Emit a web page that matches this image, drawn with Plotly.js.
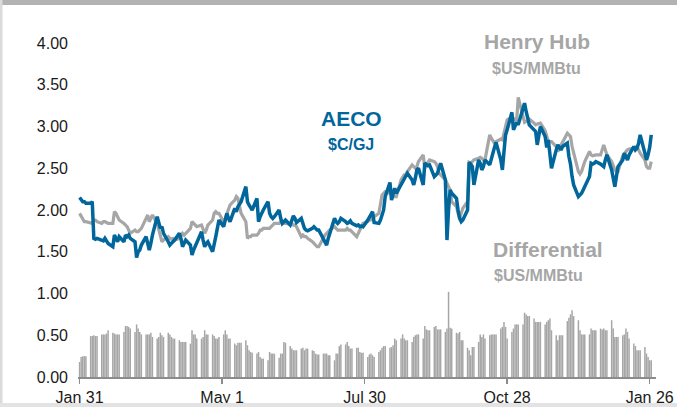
<!DOCTYPE html>
<html>
<head>
<meta charset="utf-8">
<script src="https://cdn.plot.ly/plotly-3.0.1.min.js"></script>
<style>
html,body{margin:0;padding:0;background:#fff;}
#chart{width:677px;height:407px;}
</style>
</head>
<body>
<div id="chart"></div>
<script>
// Daily (weekday) series, one row per week, first trading day Jan 31
const firstDay = '2022-01-31';
const weekCount = 52;

// AECO, $C/GJ
const aeco = [
  2.15,2.12,2.10,2.10,2.08,
  2.08,2.10,1.66,1.65,1.66,
  1.64,1.63,1.66,1.62,1.60,
  1.56,1.70,1.66,1.62,1.68,
  1.62,1.70,1.68,1.70,1.66,
  1.62,1.43,1.50,1.52,1.58,
  1.68,1.60,1.52,1.60,1.70,
  1.92,1.84,1.78,1.80,1.72,
  1.62,1.58,1.60,1.62,1.64,
  1.72,1.66,1.56,1.60,1.64,
  1.58,1.46,1.52,1.56,1.60,
  1.74,1.64,1.56,1.60,1.62,
  1.50,1.62,1.68,1.78,1.88,
  1.80,1.88,1.96,1.90,1.86,
  2.02,1.98,2.04,2.08,2.10,
  2.28,2.10,2.06,2.02,2.00,
  2.14,1.86,1.92,1.97,2.00,
  2.10,1.96,1.92,1.90,1.92,
  2.00,1.90,1.84,1.86,1.88,
  1.82,1.88,1.93,1.90,1.85,
  1.90,1.84,1.78,1.76,1.75,
  1.78,1.80,1.78,1.76,1.76,
  1.64,1.60,1.58,1.66,1.72,
  1.90,1.86,1.84,1.86,1.90,
  1.86,1.84,1.85,1.87,1.84,
  1.81,1.82,1.80,1.81,1.80,
  1.88,1.92,1.96,1.98,1.85,
  1.84,1.88,1.94,2.00,2.16,
  2.33,2.12,2.18,2.26,2.20,
  2.30,2.33,2.36,2.40,2.44,
  2.36,2.30,2.38,2.48,2.50,
  2.30,2.56,2.55,2.53,2.54,
  2.40,2.42,2.44,2.50,2.56,
  2.36,1.64,2.00,2.24,2.20,
  2.14,2.00,1.90,1.86,1.88,
  2.00,2.57,2.55,2.52,2.30,
  2.60,2.56,2.48,2.52,2.60,
  2.54,2.63,2.68,2.75,2.81,
  2.60,2.48,2.70,2.90,2.96,
  3.17,2.96,3.00,3.05,3.02,
  3.20,3.28,3.18,3.08,3.02,
  2.96,2.94,2.78,2.90,3.00,
  2.88,2.75,2.84,2.70,2.50,
  2.72,2.78,2.75,2.72,2.76,
  2.80,2.64,2.55,2.40,2.30,
  2.16,2.18,2.20,2.24,2.28,
  2.40,2.56,2.55,2.56,2.58,
  2.55,2.54,2.52,2.60,2.66,
  2.48,2.36,2.28,2.40,2.52,
  2.60,2.68,2.64,2.60,2.66,
  2.76,2.72,2.74,2.80,2.90,
  2.68,2.60,2.66,2.75,2.90
];

// Henry Hub, $US/MMBtu
const henryHub = [
  1.96,1.92,1.88,1.86,1.86,
  1.84,1.84,1.88,1.88,1.86,
  1.84,1.86,1.86,1.85,1.84,
  1.84,1.98,1.96,1.92,1.88,
  1.84,1.82,1.80,1.76,1.72,
  1.76,1.74,1.74,1.76,1.78,
  1.90,1.94,1.86,1.90,1.94,
  1.84,1.76,1.68,1.62,1.64,
  1.68,1.66,1.65,1.66,1.64,
  1.66,1.70,1.72,1.70,1.72,
  1.78,1.86,1.84,1.82,1.80,
  1.82,1.76,1.72,1.76,1.82,
  1.88,1.96,1.98,1.96,1.96,
  1.86,1.90,1.96,2.00,2.06,
  2.12,2.16,2.14,2.06,1.96,
  1.86,1.66,1.68,1.68,1.70,
  1.70,1.72,1.76,1.76,1.78,
  1.78,1.78,1.80,1.82,1.84,
  1.84,1.86,1.84,1.84,1.84,
  1.83,1.84,1.82,1.82,1.80,
  1.68,1.70,1.68,1.68,1.66,
  1.62,1.60,1.58,1.56,1.56,
  1.68,1.70,1.72,1.74,1.76,
  1.80,1.78,1.76,1.76,1.76,
  1.76,1.78,1.76,1.76,1.74,
  1.68,1.72,1.76,1.80,1.84,
  1.86,1.88,1.88,1.90,1.92,
  1.96,2.06,2.18,2.20,2.22,
  2.20,2.18,2.16,2.16,2.16,
  2.36,2.40,2.42,2.42,2.46,
  2.54,2.52,2.50,2.52,2.58,
  2.66,2.50,2.54,2.58,2.60,
  2.58,2.56,2.52,2.44,2.42,
  2.36,2.32,2.28,2.24,2.10,
  2.04,1.96,1.90,1.96,2.02,
  2.10,2.57,2.56,2.58,2.60,
  2.62,2.63,2.62,2.60,2.60,
  2.90,2.86,2.82,2.80,2.82,
  2.85,2.84,2.92,3.04,3.08,
  3.11,3.10,3.08,3.07,3.35,
  3.12,3.05,3.06,3.08,3.09,
  3.04,3.02,3.03,3.04,3.04,
  2.95,2.88,2.82,2.82,2.82,
  2.76,2.70,2.74,2.78,2.82,
  2.92,2.90,2.88,2.76,2.68,
  2.46,2.43,2.46,2.52,2.58,
  2.70,2.66,2.65,2.66,2.66,
  2.66,2.72,2.78,2.72,2.66,
  2.58,2.52,2.48,2.46,2.46,
  2.65,2.68,2.70,2.72,2.73,
  2.74,2.75,2.76,2.72,2.68,
  2.60,2.52,2.50,2.50,2.58
];

// Differential, $US/MMBtu
const differential = [
  0.18,0.24,0.25,0.25,0.25,
  0.49,0.49,0.50,0.49,0.49,
  0.51,0.51,0.51,0.52,0.56,
  0.53,0.52,0.51,0.51,0.51,
  0.54,0.61,0.61,0.60,0.58,
  0.54,0.63,0.58,0.54,0.51,
  0.51,0.51,0.51,0.53,0.48,
  0.46,0.48,0.53,0.50,0.48,
  0.53,0.51,0.48,0.46,0.46,
  0.44,0.42,0.42,0.42,0.42,
  0.40,0.56,0.51,0.51,0.46,
  0.46,0.48,0.56,0.51,0.51,
  0.51,0.49,0.46,0.46,0.48,
  0.51,0.56,0.51,0.46,0.46,
  0.40,0.38,0.41,0.41,0.41,
  0.44,0.38,0.32,0.30,0.29,
  0.28,0.30,0.24,0.22,0.22,
  0.20,0.30,0.28,0.28,0.28,
  0.23,0.28,0.28,0.42,0.41,
  0.37,0.34,0.32,0.32,0.32,
  0.34,0.35,0.32,0.34,0.34,
  0.32,0.31,0.28,0.27,0.27,
  0.28,0.28,0.28,0.26,0.26,
  0.20,0.28,0.28,0.37,0.39,
  0.39,0.42,0.37,0.34,0.34,
  0.35,0.35,0.30,0.29,0.29,
  0.24,0.27,0.28,0.26,0.24,
  0.30,0.32,0.35,0.37,0.37,
  0.35,0.36,0.38,0.46,0.44,
  0.46,0.51,0.46,0.44,0.44,
  0.42,0.48,0.50,0.51,0.51,
  0.46,0.61,0.57,0.56,0.56,
  0.60,0.61,0.57,0.57,0.57,
  0.54,0.58,1.02,0.59,0.58,
  0.53,0.52,0.54,0.44,0.44,
  0.35,0.32,0.26,0.36,0.36,
  0.42,0.51,0.48,0.51,0.46,
  0.50,0.51,0.51,0.51,0.51,
  0.58,0.60,0.66,0.60,0.46,
  0.54,0.58,0.63,0.63,0.63,
  0.63,0.77,0.75,0.73,0.73,
  0.70,0.66,0.66,0.66,0.66,
  0.63,0.66,0.68,0.70,0.56,
  0.50,0.44,0.50,0.50,0.50,
  0.67,0.71,0.75,0.80,0.73,
  0.68,0.56,0.51,0.51,0.51,
  0.51,0.58,0.56,0.56,0.56,
  0.58,0.57,0.58,0.56,0.56,
  0.68,0.58,0.48,0.48,0.48,
  0.50,0.51,0.58,0.54,0.46,
  0.40,0.37,0.32,0.32,0.32,
  0.36,0.28,0.24,0.20,0.20
];

const xTickVals = ['2022-01-31','2022-05-01','2022-07-30','2022-10-28','2023-01-26'];
const xTickText = ['Jan 31','May 1','Jul 30','Oct 28','Jan 26'];
const yTickVals = [0,0.5,1,1.5,2,2.5,3,3.5,4];

// weekday dates
const dates = [];
(function(){
  const d0 = new Date(firstDay + 'T00:00:00Z');
  for (let w = 0; w < weekCount; w++) {
    for (let k = 0; k < 5; k++) {
      const d = new Date(d0.getTime() + (w*7 + k) * 86400000);
      dates.push(d.toISOString().slice(0,10));
    }
  }
})();

const FONT = 'Liberation Sans, Arial, sans-serif';
const BLUE = '#00669b';
const GREY = '#a6a6a6';

const traces = [
  {type:'bar', x:dates, y:differential, marker:{color:GREY, line:{width:0}}, hoverinfo:'skip'},
  {type:'scatter', mode:'lines', x:dates, y:henryHub, line:{color:GREY, width:3.2}},
  {type:'scatter', mode:'lines', x:dates, y:aeco, line:{color:BLUE, width:3.5}}
];

// pixel helpers for paper coords (plot area l=78..656, t=43..377)
const px = v => (v - 78) / 578;
const py = v => (377 - v) / 334;

const ann = (text, x, y, size, color) => ({
  text:'<b>'+text+'</b>', xref:'paper', yref:'paper', x:px(x), y:py(y),
  xanchor:'center', yanchor:'middle', showarrow:false,
  font:{family:FONT, size:size, color:color}
});

const layout = {
  width:677, height:407,
  margin:{l:78, r:21, t:43, b:30},
  paper_bgcolor:'#fff', plot_bgcolor:'#fff',
  showlegend:false,
  bargap:0.06,
  font:{family:FONT, size:16, color:'#1a1a1a'},
  xaxis:{
    type:'date', range:['2022-01-30','2023-01-30'],
    tickvals:xTickVals, ticktext:xTickText,
    showgrid:false, zeroline:false,
    showline:true, linecolor:'#8c8c8c', linewidth:2,
    ticks:'outside', ticklen:5, tickwidth:1.5, tickcolor:'#8c8c8c',
    tickfont:{family:FONT, size:16, color:'#1a1a1a'}
  },
  yaxis:{
    range:[0,4], tickvals:yTickVals, tickformat:'.2f',
    showgrid:false, zeroline:false, showline:false,
    ticks:'', ticklabelstandoff:9,
    tickfont:{family:FONT, size:16, color:'#1a1a1a'}
  },
  annotations:[
    ann('Henry Hub', 537, 41, 21, GREY),
    ann('$US/MMBtu', 536, 69, 16, GREY),
    ann('AECO', 351, 118, 21, BLUE),
    ann('$C/GJ', 351, 144, 16, BLUE),
    ann('Differential', 548, 249, 21, GREY),
    ann('$US/MMBtu', 538, 275, 16, GREY)
  ],
  shapes:[
    {type:'rect', xref:'paper', yref:'paper', x0:px(0), x1:px(677), y0:py(5), y1:py(0), fillcolor:'#b3b3b3', line:{width:0}, layer:'above'},
    {type:'rect', xref:'paper', yref:'paper', x0:px(0), x1:px(2.5), y0:py(407), y1:py(0), fillcolor:'#dadada', line:{width:0}, layer:'above'},
    {type:'rect', xref:'paper', yref:'paper', x0:px(0), x1:px(677), y0:py(407), y1:py(403), fillcolor:'#e3e3e3', line:{width:0}, layer:'above'}
  ]
};

Plotly.newPlot('chart', traces, layout, {displayModeBar:false, staticPlot:true});
</script>
</body>
</html>
